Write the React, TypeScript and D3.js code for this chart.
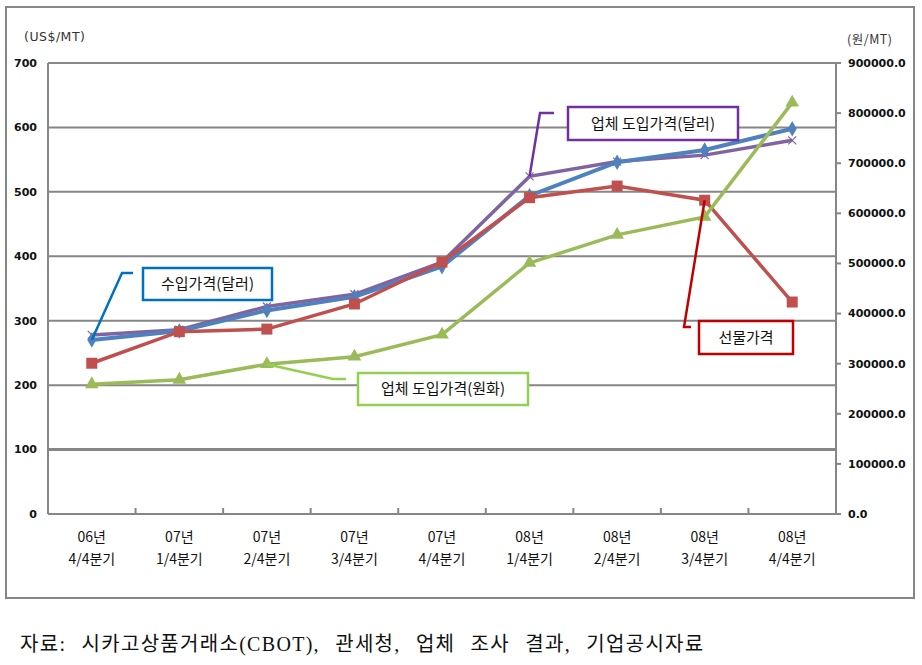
import * as d3 from 'd3'

// categories (two-line x labels)
const years = ['06년', '07년', '07년', '07년', '07년', '08년', '08년', '08년', '08년']
const quarters = ['4/4분기', '1/4분기', '2/4분기', '3/4분기', '4/4분기', '1/4분기', '2/4분기', '3/4분기', '4/4분기']

// left axis (US$/MT)
const importUsd = [270, 284, 316, 337, 384, 494, 546, 565, 598]
const firmUsd = [278, 286, 322, 341, 391, 524, 547, 557, 580]
const futures = [234, 283, 287, 326, 391, 491, 509, 487, 329]
// right axis (원/MT)
const firmKrw = [259000, 268000, 299000, 314000, 358000, 501000, 557000, 593000, 821000]

const leftTicks = [0, 100, 200, 300, 400, 500, 600, 700]
const rightTicks = [0, 100000, 200000, 300000, 400000, 500000, 600000, 700000, 800000, 900000]

const W = 922
const H = 665
const plot = { left: 48, right: 836, top: 63, bottom: 514 }
const labelFont = '"Noto Sans CJK KR", "Noto Sans", sans-serif'

export default function App() {
  const x = d3
    .scaleBand<number>()
    .domain(d3.range(years.length))
    .range([plot.left, plot.right])
  const cx = (i: number) => (x(i) ?? 0) + x.bandwidth() / 2
  const yL = d3.scaleLinear().domain([0, 700]).range([plot.bottom, plot.top])
  const yR = d3.scaleLinear().domain([0, 900000]).range([plot.bottom, plot.top])

  const lineL = d3
    .line<number>()
    .x((_, i) => cx(i))
    .y((d) => yL(d))
  const lineR = d3
    .line<number>()
    .x((_, i) => cx(i))
    .y((d) => yR(d))

  const blue = '#4F81BD'
  const purple = '#8064A2'
  const red = '#C0504D'
  const green = '#9BBB59'
  const grid = '#868686'

  // callouts: anchor on a data point, elbow + box are layout only
  const callouts = [
    { text: '수입가격(달러)', color: '#0070C0', ax: cx(0), ay: yL(importUsd[0]), ex: 122, ey: 273, hx: 133, box: [143, 268, 129, 32] },
    { text: '업체 도입가격(달러)', color: '#7030A0', ax: cx(5), ay: yL(firmUsd[5]), ex: 540, ey: 113, hx: 554, box: [568, 107, 170, 33] },
    { text: '선물가격', color: '#C00000', ax: cx(7), ay: yL(futures[7]), ex: 684, ey: 327, hx: 691, box: [699, 321, 94, 33] },
    { text: '업체 도입가격(원화)', color: '#92D050', ax: cx(2), ay: yR(firmKrw[2]), ex: 333, ey: 379, hx: 346, box: [358, 373, 170, 32] },
  ]

  return (
    <svg
      width={W}
      height={H}
      style={{ position: 'absolute', left: 0, top: 0, background: '#fff' }}
      fontFamily={labelFont}
    >
      <rect x={0} y={0} width={W} height={H} fill="#fff" />
      {/* outer chart frame */}
      <rect x={6} y={7} width={908} height={591} fill="#fff" stroke={grid} strokeWidth={2} />

      {/* gridlines */}
      {leftTicks.map((t) => (
        <line
          key={t}
          x1={plot.left}
          x2={plot.right}
          y1={yL(t)}
          y2={yL(t)}
          stroke={grid}
          strokeWidth={t === 100 ? 3 : 2}
        />
      ))}

      {/* left axis */}
      <line x1={plot.left} x2={plot.left} y1={plot.top} y2={plot.bottom} stroke={grid} strokeWidth={2} />
      {leftTicks.map((t) => (
        <text key={t} x={37} y={yL(t)} dy="0.35em" textAnchor="end" fontSize={11} fontWeight={600} fill="#111" fontFamily='"DejaVu Sans", sans-serif'>
          {t}
        </text>
      ))}
      <text x={24} y={41} fontSize={12.5} letterSpacing={0.5} fill="#333" fontFamily='"DejaVu Sans", sans-serif'>
        (US$/MT)
      </text>

      {/* right axis */}
      <line x1={plot.right} x2={plot.right} y1={plot.top} y2={plot.bottom} stroke={grid} strokeWidth={2} />
      {rightTicks.map((t) => (
        <g key={t}>
          <line x1={plot.right} x2={plot.right + 5} y1={yR(t)} y2={yR(t)} stroke={grid} strokeWidth={2} />
          <text x={848} y={yR(t)} dy="0.35em" fontSize={11} fontWeight={600} fill="#111" fontFamily='"DejaVu Sans", sans-serif'>
            {d3.format('.1f')(t)}
          </text>
        </g>
      ))}
      <text x={847} y={44} fontSize={12.5} letterSpacing={0.5} fill="#333">
        (원/MT)
      </text>

      {/* bottom axis */}
      <line x1={plot.left} x2={plot.right} y1={plot.bottom} y2={plot.bottom} stroke={grid} strokeWidth={2} />
      {d3.range(1, years.length).map((i) => (
        <line key={i} x1={x(i)} x2={x(i)} y1={plot.bottom - 6} y2={plot.bottom} stroke={grid} strokeWidth={2} />
      ))}
      {years.map((yr, i) => (
        <g key={i}>
          <text x={cx(i)} y={542} textAnchor="middle" fontSize={14} fill="#111">
            {yr}
          </text>
          <text x={cx(i)} y={564} textAnchor="middle" fontSize={14} fill="#111">
            {quarters[i]}
          </text>
        </g>
      ))}

      {/* 업체 도입가격(달러) */}
      <path d={lineL(firmUsd) ?? ''} fill="none" stroke={purple} strokeWidth={3.5} />
      {firmUsd.map((v, i) => (
        <path
          key={i}
          d={`M${cx(i) - 4},${yL(v) - 4}L${cx(i) + 4},${yL(v) + 4}M${cx(i) - 4},${yL(v) + 4}L${cx(i) + 4},${yL(v) - 4}`}
          stroke={purple}
          strokeWidth={1.2}
        />
      ))}

      {/* 수입가격(달러) */}
      <path d={lineL(importUsd) ?? ''} fill="none" stroke={blue} strokeWidth={4} />
      {importUsd.map((v, i) => (
        <path key={i} d={d3.symbol(d3.symbolDiamond, 70)() ?? ''} transform={`translate(${cx(i)},${yL(v)})`} fill={blue} />
      ))}

      {/* 선물가격 */}
      <path d={lineL(futures) ?? ''} fill="none" stroke={red} strokeWidth={3.5} />
      {futures.map((v, i) => (
        <rect key={i} x={cx(i) - 5.5} y={yL(v) - 5.5} width={11} height={11} fill={red} />
      ))}

      {/* 업체 도입가격(원화) */}
      <path d={lineR(firmKrw) ?? ''} fill="none" stroke={green} strokeWidth={3.5} />
      {firmKrw.map((v, i) => (
        <path key={i} d={d3.symbol(d3.symbolTriangle, 80)() ?? ''} transform={`translate(${cx(i)},${yR(v)})`} fill={green} />
      ))}

      {/* callouts */}
      {callouts.map((c) => (
        <g key={c.text}>
          <polyline
            points={`${c.ax},${c.ay} ${c.ex},${c.ey} ${c.hx},${c.ey}`}
            fill="none"
            stroke={c.color}
            strokeWidth={2.5}
          />
          <rect x={c.box[0]} y={c.box[1]} width={c.box[2]} height={c.box[3]} fill="#fff" stroke={c.color} strokeWidth={2.5} />
          <text x={c.box[0] + c.box[2] / 2} y={c.box[1] + c.box[3] / 2} dy="0.36em" textAnchor="middle" fontSize={15} fill="#111">
            {c.text}
          </text>
        </g>
      ))}

      {/* source note */}
      <text
        x={20}
        y={651}
        fontSize={20}
        letterSpacing={1.3}
        wordSpacing={9}
        fill="#111"
        fontFamily='"Liberation Serif", "Noto Sans CJK KR", serif'
      >
        자료: 시카고상품거래소(CBOT), 관세청, 업체 조사 결과, 기업공시자료
      </text>
    </svg>
  )
}
